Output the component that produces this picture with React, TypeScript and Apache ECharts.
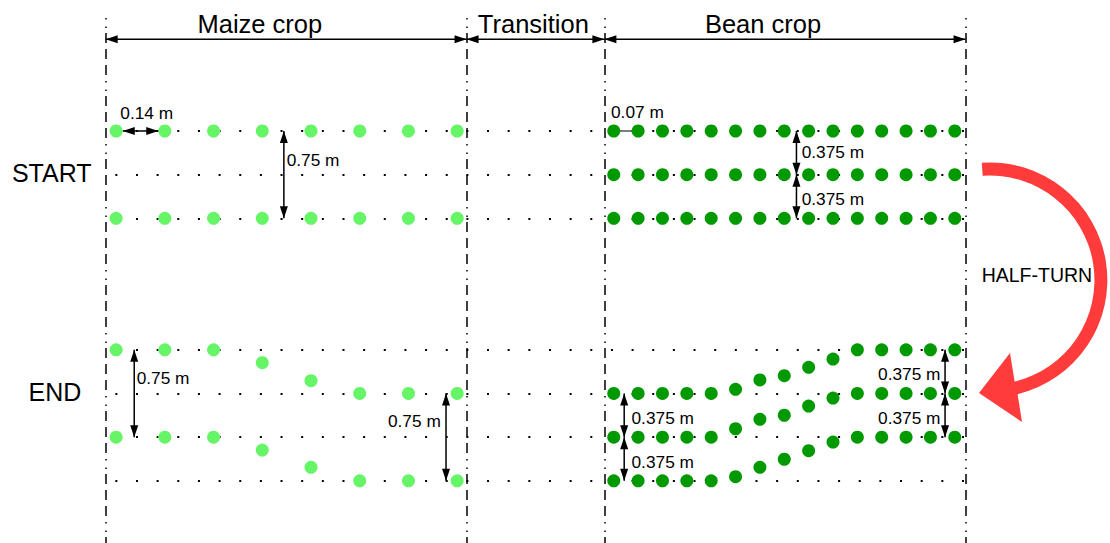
import React, { useEffect, useRef } from "react";
import * as echarts from "echarts";

// ---- data (metres) ----
const maizeX = [0.03, 0.17, 0.31, 0.45, 0.59, 0.73, 0.87, 1.01];
const beanX = [1.46, 1.53, 1.6, 1.67, 1.74, 1.81, 1.88, 1.95, 2.02, 2.09, 2.16, 2.23, 2.3, 2.37, 2.44];

const startMaizeRowsY = [0, 0.75];
const startBeanRowsY = [0, 0.375, 0.75];

const endMaizeRow1Y = [1.88, 1.88, 1.88, 1.99, 2.145, 2.255, 2.255, 2.255];
const endMaizeRow2Y = [2.63, 2.63, 2.63, 2.741, 2.889, 3.005, 3.005, 3.005];

const endBeanRowAY = [2.255, 2.255, 2.255, 2.255, 2.255, 2.219, 2.139, 2.102, 2.03, 1.959, 1.88, 1.88, 1.88, 1.88, 1.88];
const endBeanRowBY = [2.63, 2.63, 2.63, 2.63, 2.63, 2.558, 2.477, 2.442, 2.363, 2.294, 2.255, 2.255, 2.255, 2.255, 2.255];
const endBeanRowCY = [3.005, 3.005, 3.005, 3.005, 3.005, 2.97, 2.889, 2.82, 2.746, 2.672, 2.63, 2.63, 2.63, 2.63, 2.63];

const rowLinesY = [0, 0.375, 0.75, 1.88, 2.255, 2.63, 3.005];
const boundariesX = [0, 1.037, 1.433, 2.471];

const sectionTitles = ["Maize crop", "Transition", "Bean crop"];
const sectionTitleX = [0.443, 1.229, 1.889];
const sectionTitleY = -0.919;
const sectionArrowY = -0.788;

const stageNames = ["START", "END"];
const stageX = [-0.155, -0.146];
const stageY = [0.363, 2.24];

// dimension arrows: [x1, y1, x2, y2]
const dimArrows = [
  [0.049, 0, 0.151, 0],
  [0.512, 0, 0.512, 0.75],
  [1.985, 0, 1.985, 0.375],
  [1.985, 0.375, 1.985, 0.75],
  [0.082, 1.88, 0.082, 2.63],
  [0.978, 2.255, 0.978, 3.005],
  [1.49, 2.255, 1.49, 2.63],
  [1.49, 2.63, 1.49, 3.005],
  [2.412, 1.88, 2.412, 2.255],
  [2.412, 2.255, 2.412, 2.63],
];
// dimension labels: text, x, y, align
const dimLabelText = ["0.14 m", "0.75 m", "0.07 m", "0.375 m", "0.375 m", "0.75 m", "0.75 m", "0.375 m", "0.375 m", "0.375 m", "0.375 m"];
const dimLabelX = [0.118, 0.52, 1.452, 2.0, 2.0, 0.089, 0.963, 1.511, 1.511, 2.399, 2.399];
const dimLabelY = [-0.157, 0.249, -0.166, 0.178, 0.587, 2.119, 2.489, 2.468, 2.841, 2.088, 2.468];
const dimLabelAlign = ["center", "left", "left", "left", "left", "left", "right", "left", "left", "right", "right"];

const halfTurnText = "HALF-TURN";
const halfTurnPos = [2.676, 1.237];

const FONT = "'Liberation Sans', Arial, Helvetica, sans-serif";

echarts.graphic.registerShape(
  "halfTurnArrow",
  echarts.graphic.extendPath(
    "M981.8 162.8 A117.5 117.5 0 0 1 1017.6 394.2 L1022 422 L979 393 L1010 353 L1014.6 381.6 A104.5 104.5 0 0 0 982.7 175.8 Z",
    {}
  )
);

function buildOption() {
  const maizeData: number[][] = [];
  startMaizeRowsY.forEach((y) => maizeX.forEach((x) => maizeData.push([x, y])));
  maizeX.forEach((x, i) => maizeData.push([x, endMaizeRow1Y[i]]));
  maizeX.forEach((x, i) => maizeData.push([x, endMaizeRow2Y[i]]));

  const beanData: number[][] = [];
  startBeanRowsY.forEach((y) => beanX.forEach((x) => beanData.push([x, y])));
  [endBeanRowAY, endBeanRowBY, endBeanRowCY].forEach((row) =>
    beanX.forEach((x, i) => beanData.push([x, row[i]]))
  );

  const yTop = -0.971;
  const yBottom = 3.539;

  const labelData: any[] = [];
  sectionTitles.forEach((t, i) =>
    labelData.push({ value: [sectionTitleX[i], sectionTitleY], name: t, label: { fontSize: 25.5 } })
  );
  stageNames.forEach((t, i) =>
    labelData.push({ value: [stageX[i], stageY[i]], name: t, label: { fontSize: 25 } })
  );
  dimLabelText.forEach((t, i) =>
    labelData.push({
      value: [dimLabelX[i], dimLabelY[i]],
      name: t,
      label: { fontSize: 17.3, align: dimLabelAlign[i] },
    })
  );
  labelData.push({ value: halfTurnPos, name: halfTurnText, label: { fontSize: 19.5 } });

  const rowLines = rowLinesY.map((y) => [
    { coord: [boundariesX[0], y] },
    { coord: [boundariesX[3], y] },
  ]);
  const boundaryLines = boundariesX.map((x) => [{ coord: [x, yTop] }, { coord: [x, yBottom] }]);
  const arrowData: number[][] = [
    ...[0, 1, 2].map((i) => [boundariesX[i], sectionArrowY, boundariesX[i + 1], sectionArrowY]),
    ...dimArrows,
  ];

  const plainLine = (name: string, data: any[], lineStyle: any) => ({
    name,
    type: "scatter",
    data: [],
    silent: true,
    z: 1,
    itemStyle: { color: lineStyle.color },
    markLine: {
      silent: true,
      symbol: ["none", "none"],
      label: { show: false },
      emphasis: { disabled: true },
      lineStyle,
      data,
      animation: false,
    },
  });

  const HEAD_L = 12;
  const HEAD_W = 4;

  return {
    animation: false,
    backgroundColor: "#ffffff",
    textStyle: { fontFamily: FONT },
    grid: { left: 0, right: 0, top: 0, bottom: 0, containLabel: false },
    xAxis: {
      type: "value",
      min: -0.3037,
      max: 2.886,
      show: false,
      splitLine: { show: false },
    },
    yAxis: {
      type: "value",
      inverse: true,
      min: -1.1254,
      max: 3.5395,
      show: false,
      splitLine: { show: false },
    },
    graphic: [
      {
        type: "halfTurnArrow",
        x: 0,
        y: 0,
        z: 100,
        style: { fill: "#ff3b3b", stroke: null },
      },
    ],
    series: [
      plainLine("rows", rowLines, { color: "#000", width: 2, type: [2, 18.65], dashOffset: 11.35, opacity: 1 }),
      plainLine("boundaries", boundaryLines, {
        color: "#000",
        width: 1.5,
        type: [1.5, 7, 1.5, 5, 10, 6, 10, 6, 10, 6],
        opacity: 1,
      }),
      plainLine(
        "connector",
        [[{ coord: [beanX[0], startBeanRowsY[0]] }, { coord: [beanX[1], startBeanRowsY[0]] }]],
        { color: "#555", width: 1.5, type: "solid", opacity: 1 }
      ),
      {
        name: "arrows",
        type: "custom",
        silent: true,
        clip: false,
        z: 5,
        data: arrowData,
        encode: { x: [0, 2], y: [1, 3] },
        renderItem: (params: any, api: any) => {
          const p1 = api.coord([api.value(0), api.value(1)]);
          const p2 = api.coord([api.value(2), api.value(3)]);
          const dx = p2[0] - p1[0];
          const dy = p2[1] - p1[1];
          const len = Math.sqrt(dx * dx + dy * dy) || 1;
          const ux = dx / len;
          const uy = dy / len;
          const nx = -uy;
          const ny = ux;
          const head = (tip: number[], sx: number, sy: number) => ({
            type: "polygon",
            shape: {
              points: [
                tip,
                [tip[0] - sx * HEAD_L + nx * HEAD_W, tip[1] - sy * HEAD_L + ny * HEAD_W],
                [tip[0] - sx * HEAD_L - nx * HEAD_W, tip[1] - sy * HEAD_L - ny * HEAD_W],
              ],
            },
            style: { fill: "#000", stroke: null },
          });
          return {
            type: "group",
            children: [
              {
                type: "line",
                shape: { x1: p1[0], y1: p1[1], x2: p2[0], y2: p2[1] },
                style: { stroke: "#000", lineWidth: 1.5 },
              },
              head(p2, ux, uy),
              head(p1, -ux, -uy),
            ],
          };
        },
      },
      {
        name: "maize",
        type: "scatter",
        z: 10,
        symbol: "circle",
        symbolSize: 13,
        itemStyle: { color: "#66f566", opacity: 1 },
        data: maizeData,
        silent: true,
      },
      {
        name: "bean",
        type: "scatter",
        z: 10,
        symbol: "circle",
        symbolSize: 13,
        itemStyle: { color: "#009a00", opacity: 1 },
        data: beanData,
        silent: true,
      },
      {
        name: "labels",
        type: "scatter",
        z: 20,
        symbolSize: 0,
        silent: true,
        itemStyle: { color: "#000", opacity: 0 },
        data: labelData,
        label: {
          show: true,
          position: "inside",
          formatter: (p: any) => p.name,
          color: "#000",
          opacity: 1,
          fontFamily: FONT,
          verticalAlign: "middle",
          align: "center",
        },
      },
    ],
  };
}

export default function App() {
  const ref = useRef<HTMLDivElement>(null);
  useEffect(() => {
    if (!ref.current) return;
    const chart = echarts.init(ref.current, null, { renderer: "svg" });
    chart.setOption(buildOption() as any);
    return () => chart.dispose();
  }, []);
  return (
    <div
      ref={ref}
      style={{ position: "fixed", left: 0, top: 0, width: 1110, height: 543, background: "#fff" }}
    />
  );
}
